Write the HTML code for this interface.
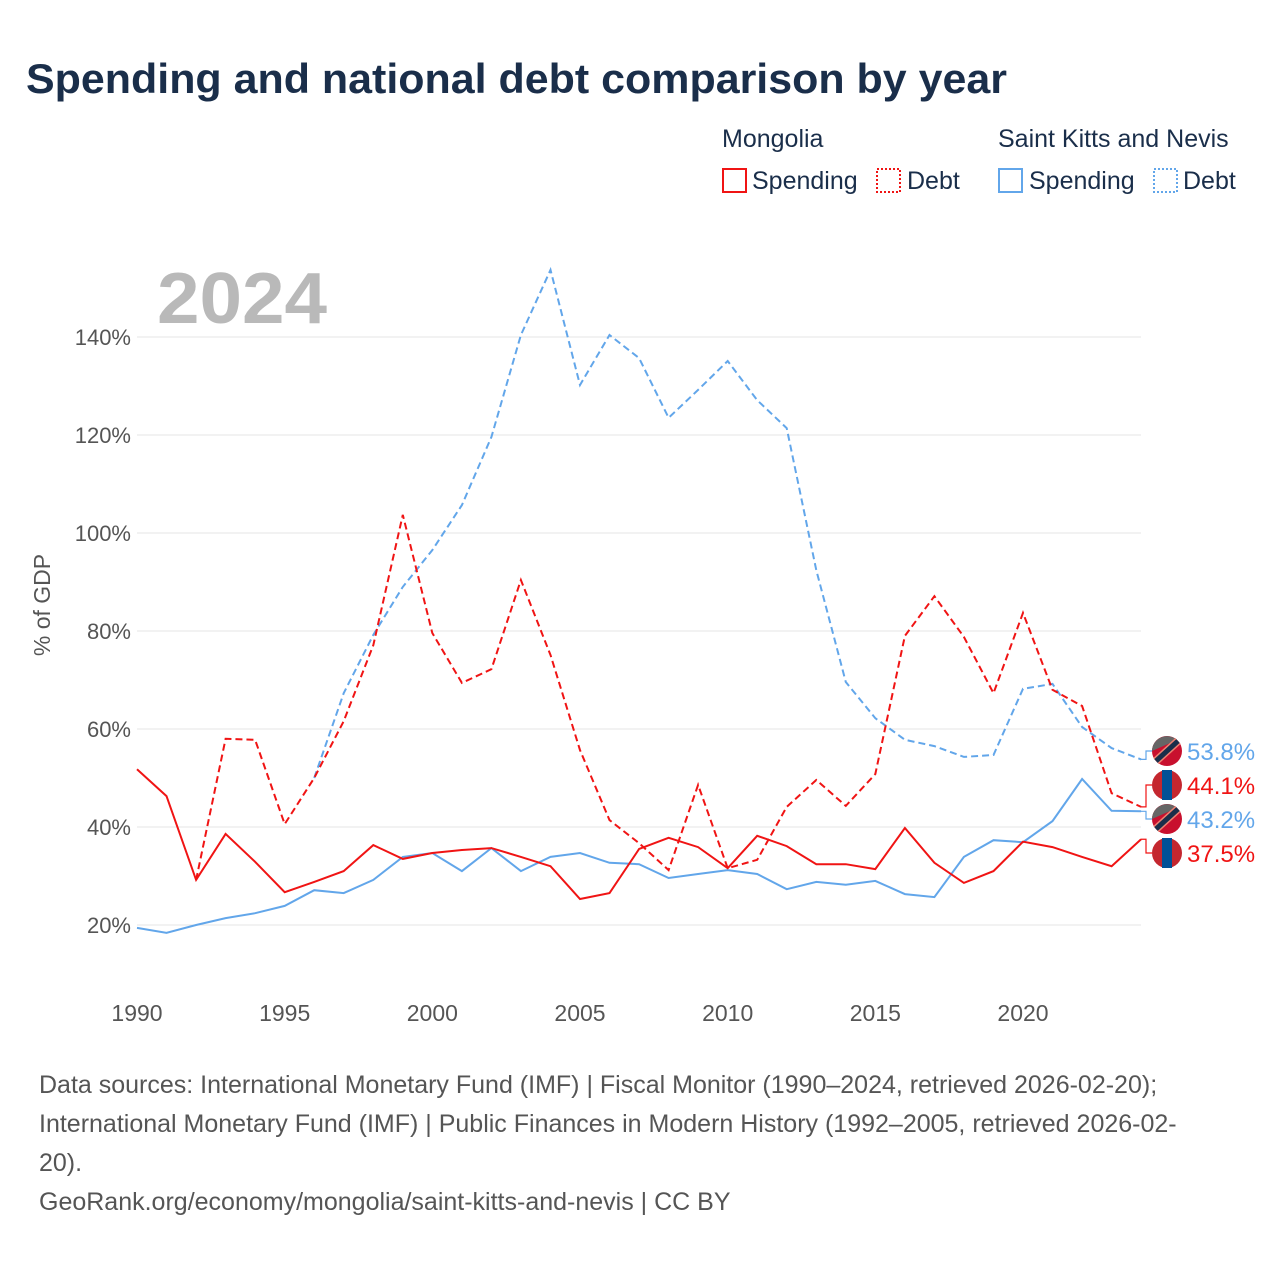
<!DOCTYPE html>
<html><head><meta charset="utf-8"><style>
body{margin:0;background:#fff;font-family:"Liberation Sans",sans-serif}
svg text{font-family:"Liberation Sans",sans-serif}
</style></head><body>
<svg width="1280" height="1280" xmlns="http://www.w3.org/2000/svg" id="chart">
<text x="26" y="93" font-size="42" font-weight="bold" fill="#1a2e4a" textLength="981" lengthAdjust="spacingAndGlyphs">Spending and national debt comparison by year</text>
<g font-size="25" fill="#1a2e4a">
<text x="722" y="147">Mongolia</text>
<text x="998" y="147">Saint Kitts and Nevis</text>
<rect x="723" y="169" width="23" height="23" fill="none" stroke="#f01414" stroke-width="2"/>
<text x="752" y="189">Spending</text>
<rect x="877" y="169" width="23" height="23" fill="none" stroke="#f01414" stroke-width="2" stroke-dasharray="2,2"/>
<text x="907" y="189">Debt</text>
<rect x="999" y="169" width="23" height="23" fill="none" stroke="#62a6ea" stroke-width="2"/>
<text x="1029" y="189">Spending</text>
<rect x="1154" y="169" width="23" height="23" fill="none" stroke="#62a6ea" stroke-width="2" stroke-dasharray="2,2"/>
<text x="1183" y="189">Debt</text>
</g>
<text x="157" y="323" font-size="72" font-weight="bold" fill="#b9b9b9" textLength="170" lengthAdjust="spacingAndGlyphs">2024</text>
<text transform="translate(50,605) rotate(-90)" text-anchor="middle" font-size="23" fill="#555">% of GDP</text>
<g id="grid"></g><g id="series"></g><g id="labels"></g>
<g font-size="25" fill="#555">
<text x="39" y="1093">Data sources: International Monetary Fund (IMF) | Fiscal Monitor (1990–2024, retrieved 2026-02-20);</text>
<text x="39" y="1132">International Monetary Fund (IMF) | Public Finances in Modern History (1992–2005, retrieved 2026-02-</text>
<text x="39" y="1171">20).</text>
<text x="39" y="1210">GeoRank.org/economy/mongolia/saint-kitts-and-nevis | CC BY</text>
</g>
</svg>
<script>
const yTicks=[20,40,60,80,100,120,140];
const xTicks=[1990,1995,2000,2005,2010,2015,2020];
const mnSpendStart=1990;
const mnSpending=[51.8,46.3,29.2,38.6,32.9,26.7,28.8,31,36.3,33.5,34.7,35.3,35.7,33.9,32,25.3,26.5,35.5,37.8,35.9,31.6,38.2,36.1,32.4,32.4,31.4,39.8,32.7,28.6,31,37,35.9,33.9,32,37.5];
const mnDebtStart=1992;
const mnDebt=[29.2,58,57.8,40.6,50,61.6,77.1,103.7,79.6,69.4,72.2,90.4,75.1,55.7,41.4,36.7,31.2,48.6,31.6,33.3,44.1,49.6,44.3,50.8,79,87.1,78.8,67.3,83.7,68,64.7,46.9,44.1];
const sknSpendStart=1990;
const sknSpending=[19.4,18.4,20,21.4,22.4,23.9,27.1,26.5,29.2,33.9,34.7,31,35.7,31,33.9,34.7,32.7,32.4,29.6,30.4,31.2,30.4,27.3,28.8,28.2,29,26.3,25.7,33.9,37.3,36.9,41.2,49.8,43.3,43.2];
const sknDebtStart=1996;
const sknDebt=[50,67.3,79.2,89,96.5,105.7,119.6,140.4,153.7,130.2,140.4,135.7,123.5,129.2,135.1,127.1,121.4,92.4,69.6,62.2,57.8,56.5,54.3,54.7,68.2,69.2,60.4,56.1,53.8];
const X=yr=>137+(yr-1990)*(1023-137)/30;
const Y=v=>925-(v-20)*4.9;
const NS="http://www.w3.org/2000/svg";
function mk(tag,attrs,parent){const e=document.createElementNS(NS,tag);for(const k in attrs)e.setAttribute(k,attrs[k]);parent.appendChild(e);return e;}
const grid=document.getElementById('grid');
yTicks.forEach(t=>{
 const l=mk('line',{x1:137,x2:1141,y1:Y(t),y2:Y(t),stroke:'#e4e4e4','stroke-width':1},grid);
 
 
 const tx=mk('text',{x:131,y:Y(t)+8,'text-anchor':'end','font-size':22,fill:'#555'},grid);
 tx.textContent=t+'%';
 
 
});
xTicks.forEach(t=>{
 const tx=mk('text',{x:X(t),y:1021,'text-anchor':'middle','font-size':23,fill:'#555'},grid);
 tx.textContent=t;
 
 
});
const ser=document.getElementById('series');
function line(vals,start,color,dash,name){
 const d=vals.map((v,i)=>(i?'L':'M')+X(start+i).toFixed(1)+','+Y(v).toFixed(1)).join('');
 const p=mk('path',{d:d,fill:'none',stroke:color,'stroke-width':2,'stroke-dasharray':dash||'none'},ser);
 
 
}
line(sknDebt,sknDebtStart,'#62a6ea','7,4','skn-debt-line');
line(sknSpending,sknSpendStart,'#62a6ea','','skn-spending-line');
line(mnDebt,mnDebtStart,'#f01414','7,4','mongolia-debt-line');
line(mnSpending,mnSpendStart,'#f01414','','mongolia-spending-line');
const lab=document.getElementById('labels');
const ends=[[sknDebt[sknDebt.length-1],751,'#62a6ea','skn'],[mnDebt[mnDebt.length-1],785,'#f01414','mn'],[sknSpending[sknSpending.length-1],819,'#62a6ea','skn'],[mnSpending[mnSpending.length-1],853,'#f01414','mn']];
ends.forEach((e,i)=>{
 const [v,ly,c,f]=e;
 const yv=Y(v);
 const conn=mk('path',{d:`M1141,${yv}L1146,${yv}L1146,${ly}L1152,${ly}`,fill:'none',stroke:c,'stroke-width':1.2},lab);
 
 
 const g=mk('g',{},lab);
 
 
 const cx=1167;
 if(f==='mn'){
  mk('circle',{cx:cx,cy:ly,r:15,fill:'#c4272f'},g);
  mk('rect',{x:cx-5,y:ly-15,width:10,height:30,fill:'#015197'},g);
 }else{
  mk('circle',{cx:cx,cy:ly,r:15,fill:'#c8102e'},g);
  mk('path',{d:`M${cx-15},${ly}A15,15 0 0 1 ${cx+10},${ly-11}Z`,fill:'#666'},g);
  mk('line',{x1:cx-11,y1:ly+10,x2:cx+11,y2:ly-10,stroke:'#f08070','stroke-width':8},g);
  mk('line',{x1:cx-11,y1:ly+10,x2:cx+11,y2:ly-10,stroke:'#1a2e4a','stroke-width':5},g);
 }
 const t=mk('text',{x:1187,y:ly+9,'font-size':24,fill:c},lab);
 t.textContent=v.toFixed(1)+'%';
 
 
});
</script>
</body></html>
